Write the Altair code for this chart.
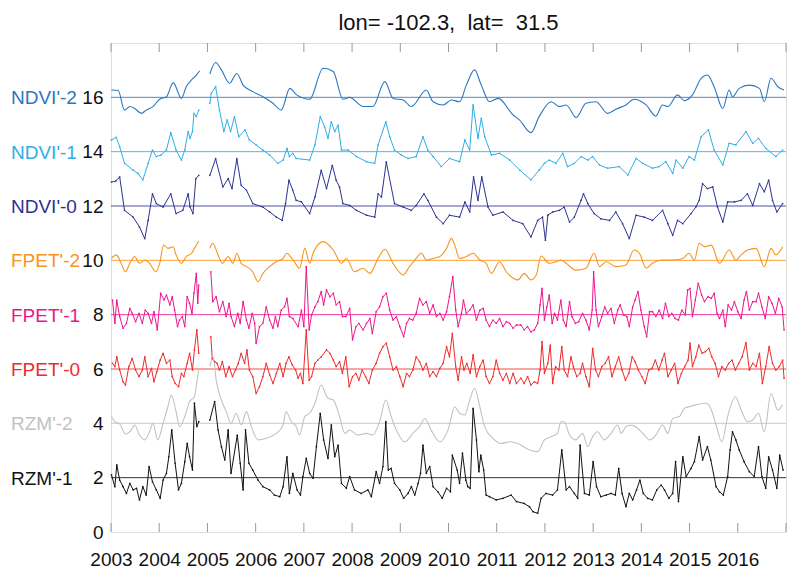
import altair as alt
import pandas as pd

TITLE = "lon= -102.3,\u00a0 lat=\u00a0 31.5"
NAMES = ["NDVI'-2", "NDVI'-1", "NDVI'-0", "FPET'-2", "FPET'-1", "FPET'-0", "RZM'-2", "RZM'-1"]
OFFSETS = [16, 14, 12, 10, 8, 6, 4, 2]
COLORS = ["#2a77c2", "#2eaee6", "#2e3192", "#f7941d", "#ec168c", "#ee2a2a", "#c2c2c2", "#111111"]
SMOOTH = ["NDVI'-2", "FPET'-2", "RZM'-2"]
YEAR_LABELS = list(range(2003, 2017))
YEAR_TICKS = list(range(2003, 2018))
Y_LABELS = [0, 2, 4, 6, 8, 10, 12, 14, 16]

# ---- NDVI'-2 ----
NDVI2_T = [2003.01, 2003.15, 2003.28, 2003.39, 2003.49, 2003.63, 2003.73, 2003.87, 2004.01, 2004.15, 2004.29, 2004.46, 2004.56, 2004.67, 2004.77, 2004.84,
           2005.05, 2005.17, 2005.29, 2005.46, 2005.61, 2005.74, 2005.94, 2006.15, 2006.36, 2006.53, 2006.71, 2006.85, 2007.12, 2007.40, 2007.61, 2007.81,
           2007.95, 2008.23, 2008.43, 2008.68, 2008.85, 2009.06, 2009.23, 2009.54, 2009.68, 2009.89, 2010.06, 2010.23, 2010.37, 2010.54, 2010.68, 2010.85,
           2011.03, 2011.34, 2011.47, 2011.71, 2011.88, 2012.13, 2012.30, 2012.44, 2012.65, 2012.85, 2013.06, 2013.30, 2013.47, 2013.68, 2013.85, 2014.10,
           2014.30, 2014.44, 2014.55, 2014.75, 2014.89, 2015.06, 2015.24, 2015.37, 2015.51, 2015.69, 2015.82, 2015.89, 2016.03, 2016.24, 2016.45, 2016.55,
           2016.69, 2016.83, 2016.96]
NDVI2_V = [0.27, 0.25, -0.47, -0.34, -0.41, -0.59, -0.47, -0.34, -0.07, 0.02, 0.54, -0.04, 0.39, 0.64, 0.82, 0.98,
           0.86, 1.28, 1.01, 0.52, 0.88, 0.45, 0.21, 0.02, -0.22, -0.47, 0.33, 0.09, -0.07, 1.07, 0.95, -0.07,
           0.0, -0.34, -0.34, 0.58, -0.04, -0.10, -0.34, 0.27, -0.16, -0.28, -0.10, -0.16, 0.45, 1.01, 0.45, -0.16,
           -0.04, -0.65, -0.83, -1.30, -0.71, -0.16, -0.34, -0.28, -0.74, -0.22, -0.16, -0.59, -0.44, -0.28, -0.07, -0.28,
           -0.69, -0.28, -0.34, 0.09, -0.12, 0.09, 0.70, 0.82, 0.39, -0.41, 0.27, 0.02, 0.33, 0.45, 0.33, -0.16,
           0.70, 0.39, 0.27]

# ---- NDVI'-1 ----
NDVI1_T = [2003.01, 2003.11, 2003.18, 2003.28, 2003.46, 2003.56, 2003.66, 2003.77, 2003.86, 2003.94, 2004.04, 2004.15, 2004.24, 2004.35, 2004.46, 2004.53,
           2004.60, 2004.64, 2004.69, 2004.72, 2004.77, 2004.82,
           2005.05, 2005.08, 2005.17, 2005.25, 2005.34, 2005.41, 2005.48, 2005.56, 2005.65, 2005.78, 2005.87, 2006.01, 2006.15, 2006.29, 2006.46, 2006.57,
           2006.65, 2006.70, 2006.77, 2006.84, 2007.12, 2007.23, 2007.34, 2007.43, 2007.50, 2007.57, 2007.64, 2007.71, 2007.78, 2007.92, 2008.09, 2008.30,
           2008.47, 2008.54, 2008.70, 2008.78, 2008.88, 2009.02, 2009.16, 2009.33, 2009.47, 2009.57, 2009.68, 2009.85, 2010.02, 2010.23, 2010.34, 2010.44,
           2010.51, 2010.61, 2010.68, 2010.75, 2010.89, 2011.06, 2011.27, 2011.48, 2011.71, 2011.88, 2011.99, 2012.09, 2012.23, 2012.37, 2012.47, 2012.61,
           2012.75, 2012.89, 2012.99, 2013.13, 2013.30, 2013.54, 2013.72, 2013.89, 2014.03, 2014.23, 2014.37, 2014.51, 2014.65, 2014.72, 2014.86, 2014.99,
           2015.10, 2015.24, 2015.39, 2015.51, 2015.69, 2015.82, 2015.96, 2016.17, 2016.31, 2016.43, 2016.58, 2016.79, 2016.93]
NDVI1_V = [0.43, 0.53, 0.18, -0.43, -0.68, -0.80, -1.04, -0.43, 0.06, -0.18, -0.12, 0.06, 0.70, 0.06, -0.31, 0.06,
           0.74, 0.49, 0.74, 1.41, 1.29, 1.53,
           1.78, 2.15, 2.39, 1.53, 0.74, 1.17, 0.74, 1.29, 0.55, 0.80, 0.43, 0.25, 0.06, -0.12, -0.43, -0.31,
           0.12, -0.18, -0.06, -0.25, -0.31, 0.25, 1.29, 0.92, 0.49, 1.10, 0.74, 0.98, 0.06, 0.06, -0.18, -0.37,
           -0.43, 0.25, 1.10, 0.55, 0.06, -0.12, -0.25, -0.18, 0.55, 0.06, -0.18, -0.55, -0.25, -0.37, 0.43, 0.06,
           1.72, 0.49, 1.23, 0.55, -0.12, -0.06, -0.31, -0.68, -1.04, -0.68, -0.43, -0.31, -0.43, -0.06, -0.55, -0.43,
           -0.18, -0.31, -0.18, -0.49, -0.61, -0.55, -0.86, -0.25, -0.43, -0.61, -0.55, -0.37, -0.80, -0.31, -0.61, -0.18,
           -0.31, 0.55, 0.80, 0.06, -0.49, 0.31, 0.25, 0.74, 0.31, 0.49, 0.12, -0.18, 0.06]

# ---- NDVI'-0 ----
NDVI0_T = [2003.01, 2003.10, 2003.18, 2003.28, 2003.46, 2003.59, 2003.70, 2003.77, 2003.86, 2003.94, 2004.08, 2004.24, 2004.35, 2004.49, 2004.60, 2004.64,
           2004.70, 2004.76, 2004.82,
           2005.05, 2005.17, 2005.32, 2005.43, 2005.51, 2005.61, 2005.70, 2005.81, 2005.94, 2006.15, 2006.29, 2006.43, 2006.55, 2006.62, 2006.69, 2006.77,
           2006.84, 2006.95, 2007.12, 2007.23, 2007.36, 2007.47, 2007.59, 2007.67, 2007.74, 2007.81, 2007.95, 2008.09, 2008.30, 2008.47, 2008.54, 2008.61,
           2008.71, 2008.88, 2009.06, 2009.23, 2009.33, 2009.49, 2009.57, 2009.75, 2009.89, 2010.02, 2010.23, 2010.34, 2010.44, 2010.52, 2010.61, 2010.69,
           2010.82, 2010.92, 2011.13, 2011.34, 2011.54, 2011.71, 2011.85, 2011.95, 2012.01, 2012.06, 2012.16, 2012.30, 2012.40, 2012.51, 2012.61, 2012.75,
           2012.80, 2012.89, 2013.02, 2013.16, 2013.34, 2013.47, 2013.61, 2013.75, 2013.89, 2014.06, 2014.23, 2014.44, 2014.55, 2014.65, 2014.75, 2014.86,
           2015.03, 2015.13, 2015.20, 2015.27, 2015.37, 2015.48, 2015.58, 2015.69, 2015.79, 2015.93, 2016.07, 2016.20, 2016.31, 2016.45, 2016.55, 2016.64,
           2016.72, 2016.81, 2016.93]
NDVI0_V = [0.88, 0.92, 1.07, -0.16, -0.41, -0.77, -1.20, -0.53, 0.45, 0.09, -0.04, 0.45, -0.28, -0.16, 0.45, -0.04,
           -0.28, 1.01, 1.13,
           1.13, 1.74, 0.70, 1.01, 0.64, 1.74, 0.76, 0.58, 0.09, -0.04, -0.22, -0.41, -0.53, 0.09, 0.95, 0.58,
           0.21, 0.15, -0.28, 0.33, 1.31, 0.64, 1.50, 0.95, 0.70, 0.09, 0.02, -0.16, -0.34, -0.41, 0.45, 0.33,
           1.62, 0.09, -0.04, -0.16, 0.02, 0.45, 0.21, -0.41, -0.65, -0.34, -0.41, 0.15, -0.22, 1.07, 0.21, 1.07,
           -0.04, -0.34, -0.22, -0.53, -0.65, -1.14, -0.53, -0.41, -1.26, -0.34, -0.22, -0.16, -0.04, -0.59, -0.41, 0.21,
           0.45, 0.09, -0.28, -0.47, -0.53, -0.22, -0.65, -1.20, -0.34, -0.41, -0.53, -0.16, -0.65, -1.08, -0.53, -0.65,
           -0.28, -0.04, 0.21, 0.82, 0.64, 0.70, -0.04, -0.59, 0.15, 0.15, 0.21, 0.45, 0.02, 0.82, 0.52, 0.95,
           0.21, -0.22, 0.09]

# ---- FPET'-2 ----
FPET2_T = [2003.01, 2003.11, 2003.21, 2003.30, 2003.39, 2003.49, 2003.59, 2003.70, 2003.80, 2003.93, 2004.01, 2004.09, 2004.18, 2004.29, 2004.35, 2004.46,
           2004.56, 2004.67, 2004.73, 2004.82,
           2005.05, 2005.11, 2005.22, 2005.31, 2005.43, 2005.53, 2005.61, 2005.70, 2005.81, 2005.94, 2006.05, 2006.15, 2006.29, 2006.43, 2006.57, 2006.64,
           2006.78, 2006.91, 2007.02, 2007.12, 2007.19, 2007.40, 2007.61, 2007.78, 2007.88, 2008.05, 2008.23, 2008.37, 2008.54, 2008.68, 2008.85, 2009.06,
           2009.19, 2009.30, 2009.44, 2009.54, 2009.68, 2009.82, 2009.96, 2010.06, 2010.13, 2010.23, 2010.37, 2010.51, 2010.65, 2010.78, 2010.89, 2011.06,
           2011.20, 2011.44, 2011.57, 2011.71, 2011.82, 2011.92, 2012.09, 2012.23, 2012.33, 2012.44, 2012.64, 2012.85, 2013.02, 2013.13, 2013.27, 2013.47,
           2013.68, 2013.85, 2013.96, 2014.10, 2014.23, 2014.44, 2014.65, 2014.86, 2014.99, 2015.10, 2015.20, 2015.31, 2015.45, 2015.62, 2015.82, 2015.96,
           2016.07, 2016.20, 2016.38, 2016.55, 2016.69, 2016.79, 2016.93]
FPET2_V = [0.07, 0.20, -0.11, -0.42, -0.11, 0.14, -0.11, 0.01, -0.11, -0.42, -0.11, 0.56, 0.44, 0.50, 0.20, -0.11,
           0.14, 0.26, 0.44, 0.71,
           0.44, 0.63, 0.20, -0.11, 0.14, -0.11, 0.26, -0.11, -0.23, -0.42, -0.79, -0.48, -0.23, -0.05, 0.07, 0.26,
           0.01, -0.29, 0.44, -0.11, 0.26, 0.69, 0.38, -0.11, 0.07, -0.42, -0.29, -0.48, 0.07, 0.41, -0.11, -0.54,
           -0.23, 0.01, 0.26, 0.01, 0.07, 0.14, 0.44, 0.81, 0.56, 0.07, 0.14, 0.26, 0.01, -0.11, -0.48, -0.05,
           -0.42, -0.72, -0.48, -0.72, -0.54, 0.16, -0.11, -0.05, 0.01, -0.11, -0.36, -0.29, 0.26, -0.23, -0.05, -0.23,
           -0.17, 0.38, 0.26, -0.29, -0.11, 0.01, 0.01, 0.07, 0.26, 0.01, 0.63, 0.50, 0.56, -0.11, 0.38, 0.01,
           0.20, 0.38, 0.44, -0.23, 0.44, 0.20, 0.50]

# ---- FPET'-1 ----
FPET1_T = [2003.03, 2003.08, 2003.12, 2003.18, 2003.25, 2003.32, 2003.39, 2003.44, 2003.51, 2003.58, 2003.65, 2003.71, 2003.77, 2003.84, 2003.89, 2003.96,
           2004.03, 2004.10, 2004.15, 2004.22, 2004.27, 2004.32, 2004.38, 2004.42, 2004.48, 2004.53, 2004.58, 2004.63, 2004.68, 2004.72, 2004.77, 2004.80,
           2004.82,
           2005.07, 2005.11, 2005.18, 2005.25, 2005.32, 2005.39, 2005.45, 2005.49, 2005.56, 2005.63, 2005.68, 2005.74, 2005.81, 2005.86, 2005.93, 2005.98,
           2006.01, 2006.08, 2006.15, 2006.22, 2006.29, 2006.36, 2006.41, 2006.46, 2006.53, 2006.60, 2006.65, 2006.70, 2006.77, 2006.88, 2006.95, 2007.00,
           2007.05, 2007.11, 2007.16, 2007.23, 2007.29, 2007.36, 2007.41, 2007.47, 2007.54, 2007.61, 2007.67, 2007.74, 2007.80, 2007.87, 2007.95, 2008.01,
           2008.08, 2008.14, 2008.23, 2008.30, 2008.37, 2008.42, 2008.50, 2008.57, 2008.64, 2008.71, 2008.78, 2008.85, 2008.92, 2008.99, 2009.07, 2009.13,
           2009.19, 2009.26, 2009.33, 2009.40, 2009.47, 2009.54, 2009.61, 2009.68, 2009.75, 2009.82, 2009.89, 2009.96, 2010.02, 2010.09, 2010.15, 2010.20,
           2010.27, 2010.31, 2010.37, 2010.44, 2010.51, 2010.58, 2010.65, 2010.72, 2010.78, 2010.85, 2010.92, 2010.99, 2011.06, 2011.13, 2011.20, 2011.27,
           2011.34, 2011.41, 2011.50, 2011.57, 2011.64, 2011.71, 2011.78, 2011.85, 2011.90, 2011.94, 2011.99, 2012.04, 2012.09, 2012.15, 2012.20, 2012.26,
           2012.33, 2012.38, 2012.44, 2012.51, 2012.56, 2012.63, 2012.70, 2012.78, 2012.85, 2012.92, 2012.98, 2013.01, 2013.06, 2013.11, 2013.18, 2013.24,
           2013.30, 2013.37, 2013.44, 2013.51, 2013.56, 2013.63, 2013.70, 2013.75, 2013.82, 2013.87, 2013.93, 2013.99, 2014.06, 2014.11, 2014.17, 2014.23,
           2014.30, 2014.37, 2014.44, 2014.50, 2014.57, 2014.63, 2014.70, 2014.77, 2014.84, 2014.91, 2014.96, 2015.01, 2015.06, 2015.12, 2015.18, 2015.25,
           2015.31, 2015.38, 2015.45, 2015.51, 2015.57, 2015.62, 2015.69, 2015.74, 2015.80, 2015.87, 2015.93, 2016.00, 2016.07, 2016.13, 2016.18, 2016.24,
           2016.31, 2016.38, 2016.43, 2016.50, 2016.57, 2016.64, 2016.71, 2016.78, 2016.85, 2016.92, 2016.96]
FPET1_V = [0.54, -0.32, 0.54, -0.07, -0.50, -0.32, 0.23, 0.05, -0.26, 0.05, -0.32, 0.17, 0.05, -0.32, 0.11, -0.56,
           0.79, 0.54, 0.72, 0.36, 0.66, 0.17, -0.44, -0.20, -0.07, -0.44, 0.66, 0.42, 0.05, 0.79, 1.52, 0.42,
           1.09,
           1.58, 0.48, 0.66, 0.11, 0.48, -0.07, 0.42, -0.07, -0.44, 0.05, -0.32, 0.48, -0.20, -0.50, 0.05, -0.32,
           -1.06, -0.44, -0.32, 0.29, -0.20, -0.50, -0.07, -0.44, 0.17, 0.29, 0.60, -0.07, -0.14, -0.44, 0.17, -0.44,
           1.77, -0.56, -0.01, 0.29, 0.48, 0.85, 0.36, 0.91, 0.66, 0.79, 0.36, 0.48, -0.07, -0.07, 0.23, -0.93,
           -0.44, -0.32, -0.56, -0.32, -0.14, -0.69, 0.11, 0.29, 0.66, 0.79, 0.17, -0.20, -0.07, -0.44, -0.81, -0.32,
           -0.14, -0.20, 0.05, 0.60, 0.36, 0.48, 0.05, 0.36, -0.07, 0.05, -0.20, 0.11, 0.66, 1.40, 0.17, -0.44,
           0.05, 0.54, 0.05, 0.17, 0.36, -0.20, 0.17, 0.23, -0.20, -0.44, -0.20, -0.32, -0.14, -0.44, -0.26, -0.32,
           -0.50, -0.38, -0.38, -0.56, -0.44, -0.63, -0.56, -0.32, 0.36, 0.97, -0.20, 0.29, 0.72, -0.32, 0.05, -0.20,
           0.54, -0.20, -0.44, 0.48, -0.07, -0.32, -0.26, 0.05, -0.20, -0.56, 0.17, 1.58, 0.17, -0.44, -0.07, 0.29,
           0.05, 0.23, -0.32, 0.17, 0.36, -0.01, -0.07, -0.44, 0.29, 0.54, 0.85, 0.17, -0.44, -0.81, 0.11, 0.11,
           -0.07, 0.17, -0.14, 0.42, -0.07, 0.05, -0.14, -0.20, 0.17, -0.01, 0.91, 0.97, -0.07, 0.54, 1.15, 0.72,
           0.48, 0.66, 0.60, 0.79, 0.05, -0.14, 0.17, -0.44, 0.36, 0.17, 0.48, 0.11, -0.14, 0.54, 0.85, 0.17,
           0.48, 0.48, 0.79, 0.29, -0.14, 0.66, 0.42, 0.05, 0.60, 0.29, -0.56]

# ---- FPET'-0 ----
FPET0_T = [2003.03, 2003.08, 2003.12, 2003.18, 2003.25, 2003.30, 2003.37, 2003.44, 2003.51, 2003.58, 2003.65, 2003.70, 2003.77, 2003.84, 2003.89, 2003.95,
           2004.02, 2004.08, 2004.15, 2004.22, 2004.27, 2004.33, 2004.40, 2004.46, 2004.51, 2004.58, 2004.63, 2004.69, 2004.73, 2004.78, 2004.82,
           2005.07, 2005.10, 2005.15, 2005.20, 2005.25, 2005.31, 2005.38, 2005.45, 2005.52, 2005.58, 2005.64, 2005.70, 2005.77, 2005.82, 2005.87, 2005.94,
           2006.01, 2006.08, 2006.15, 2006.22, 2006.29, 2006.36, 2006.43, 2006.50, 2006.57, 2006.63, 2006.69, 2006.76, 2006.83, 2006.88, 2006.93, 2006.98,
           2007.05, 2007.11, 2007.16, 2007.23, 2007.29, 2007.36, 2007.47, 2007.54, 2007.61, 2007.67, 2007.74, 2007.80, 2007.87, 2007.94, 2008.01, 2008.08,
           2008.14, 2008.21, 2008.28, 2008.35, 2008.42, 2008.50, 2008.57, 2008.64, 2008.71, 2008.78, 2008.85, 2008.92, 2008.99, 2009.06, 2009.13, 2009.19,
           2009.26, 2009.33, 2009.40, 2009.47, 2009.54, 2009.61, 2009.68, 2009.75, 2009.82, 2009.89, 2009.96, 2010.02, 2010.08, 2010.15, 2010.20, 2010.27,
           2010.32, 2010.38, 2010.45, 2010.51, 2010.58, 2010.65, 2010.72, 2010.78, 2010.85, 2010.92, 2010.99, 2011.06, 2011.13, 2011.20, 2011.27, 2011.34,
           2011.41, 2011.50, 2011.57, 2011.64, 2011.71, 2011.78, 2011.85, 2011.90, 2011.94, 2011.99, 2012.06, 2012.11, 2012.16, 2012.22, 2012.29, 2012.35,
           2012.40, 2012.47, 2012.54, 2012.59, 2012.66, 2012.73, 2012.78, 2012.85, 2012.92, 2012.99, 2013.05, 2013.11, 2013.18, 2013.25, 2013.32, 2013.39,
           2013.46, 2013.53, 2013.60, 2013.67, 2013.74, 2013.81, 2013.87, 2013.94, 2014.01, 2014.08, 2014.15, 2014.22, 2014.29, 2014.36, 2014.43, 2014.48,
           2014.55, 2014.62, 2014.69, 2014.76, 2014.83, 2014.90, 2014.97, 2015.01, 2015.06, 2015.13, 2015.19, 2015.26, 2015.33, 2015.40, 2015.46, 2015.53,
           2015.60, 2015.67, 2015.74, 2015.81, 2015.88, 2015.95, 2016.02, 2016.09, 2016.17, 2016.24, 2016.31, 2016.38, 2016.45, 2016.51, 2016.58, 2016.65,
           2016.72, 2016.79, 2016.86, 2016.93, 2016.96]
FPET0_V = [0.21, 0.09, 0.45, -0.04, -0.47, -0.59, 0.09, 0.39, -0.04, -0.28, -0.04, 0.45, -0.28, 0.02, -0.47, -0.10,
           0.33, 0.58, 0.21, 0.33, -0.28, -0.53, -0.65, -0.16, -0.28, 0.21, 0.58, -0.04, 0.70, 1.44, 0.58,
           1.19, 0.39, 0.27, 0.21, -0.04, 0.27, -0.28, 0.09, -0.28, -0.04, 0.21, 0.58, 0.21, 0.70, -0.04, -0.28,
           -0.90, -0.65, -0.28, 0.21, -0.22, -0.53, -0.16, 0.21, -0.28, 0.21, 0.45, 0.15, -0.04, -0.34, -0.16, -0.53,
           1.44, -0.41, -0.28, 0.21, 0.33, 0.45, 0.70, 0.58, 0.33, 0.09, 0.27, -0.16, 0.45, -0.65, -0.28, -0.16,
           -0.41, -0.04, -0.28, -0.53, -0.04, 0.21, 0.58, 0.82, 0.95, 0.45, -0.04, 0.09, -0.28, -0.65, -0.16, -0.28,
           -0.04, 0.45, 0.27, -0.04, 0.21, -0.28, -0.10, -0.28, 0.02, 0.21, 0.82, 0.45, 1.31, 0.09, -0.41, 0.45,
           -0.04, 0.21, -0.16, 0.52, -0.28, 0.09, 0.33, -0.28, -0.53, -0.28, 0.33, -0.16, -0.41, -0.16, -0.53, -0.16,
           -0.53, -0.34, -0.53, -0.28, -0.59, -0.47, -0.53, -0.04, 1.01, -0.16, 0.21, 0.88, -0.53, 0.09, -0.04, 0.82,
           -0.04, -0.28, 0.45, 0.09, -0.28, -0.16, 0.21, -0.28, -0.65, 0.76, -0.04, -0.28, 0.09, 0.21, 0.45, -0.28,
           0.09, 0.45, -0.04, -0.41, -0.16, 0.45, 0.27, -0.04, -0.28, -0.53, -0.04, 0.02, 0.33, -0.04, 0.33, 0.58,
           -0.28, -0.04, 0.21, -0.53, -0.16, 0.09, 0.33, 0.95, 0.09, 0.45, 0.88, 0.58, 0.64, 0.76, 0.45, 0.21,
           -0.28, 0.09, -0.04, 0.21, 0.33, -0.04, 0.21, 0.45, 0.97, -0.04, 0.21, 0.09, 0.58, -0.53, 0.09, 0.82,
           0.21, -0.04, 0.09, 0.33, -0.34]

# ---- RZM'-2 ----
RZM2_T = [2003.01, 2003.08, 2003.17, 2003.30, 2003.42, 2003.49, 2003.59, 2003.70, 2003.80, 2003.87, 2003.97, 2004.08, 2004.18, 2004.25, 2004.35, 2004.42,
          2004.53, 2004.63, 2004.73, 2004.78, 2004.82,
          2005.05, 2005.12, 2005.18, 2005.29, 2005.39, 2005.49, 2005.60, 2005.70, 2005.81, 2005.91, 2006.05, 2006.22, 2006.43, 2006.57, 2006.63, 2006.74, 2006.84,
          2006.91, 2007.02, 2007.12, 2007.23, 2007.36, 2007.50, 2007.61, 2007.74, 2007.85, 2007.95, 2008.12, 2008.30, 2008.43, 2008.57, 2008.70, 2008.81,
          2008.92, 2009.09, 2009.26, 2009.40, 2009.51, 2009.64, 2009.82, 2009.99, 2010.13, 2010.23, 2010.34, 2010.44, 2010.54, 2010.65, 2010.75, 2010.92,
          2011.10, 2011.27, 2011.44, 2011.68, 2011.85, 2011.99, 2012.13, 2012.26, 2012.33, 2012.40, 2012.51, 2012.64, 2012.78, 2012.89, 2012.99, 2013.09,
          2013.23, 2013.37, 2013.51, 2013.58, 2013.68, 2013.79, 2013.92, 2014.03, 2014.17, 2014.30, 2014.44, 2014.55, 2014.65, 2014.79, 2014.89, 2014.99,
          2015.13, 2015.34, 2015.44, 2015.55, 2015.67, 2015.79, 2015.95, 2016.07, 2016.20, 2016.31, 2016.43, 2016.55, 2016.69, 2016.83, 2016.93]
RZM2_V = [0.25, 0.06, 0.0, -0.39, -0.25, -0.06, -0.43, -0.61, -0.31, 0.0, -0.61, 0.0, 0.61, 1.04, 0.43, -0.12,
          0.25, 0.80, 0.98, 1.50, 2.00,
          2.10, 2.46, 1.60, 0.86, 0.43, 0.0, 0.37, -0.06, 0.43, -0.12, -0.61, -0.55, -0.37, -0.06, 0.43, 0.06, -0.12,
          -0.43, 0.25, 0.37, 0.74, 1.41, 0.92, 0.86, 0.25, -0.37, -0.25, -0.43, -0.37, -0.43, 0.06, 0.86, 0.25,
          -0.25, -0.68, -0.37, -0.12, 0.18, -0.25, -0.68, -0.25, 0.61, 0.37, 0.31, 0.86, 1.29, 0.61, -0.12, -0.55,
          -0.74, -0.68, -0.74, -0.98, -1.04, -0.61, -0.49, -0.37, 0.06, 0.06, -0.43, -0.61, -0.37, -0.86, -0.49, -0.31,
          -0.61, -0.37, -0.06, -0.37, -0.12, -0.06, -0.18, -0.37, -0.61, -0.43, -0.06, -0.37, 0.18, 0.25, 0.55, 0.61,
          0.68, 0.74, 0.55, -0.06, -0.68, 0.25, 0.98, 0.49, 0.06, 0.12, 0.37, -0.31, 1.10, 0.49, 0.68]

# ---- RZM'-1 ----
RZM1_T = [2003.01, 2003.08, 2003.12, 2003.18, 2003.25, 2003.32, 2003.39, 2003.46, 2003.53, 2003.59, 2003.66, 2003.73, 2003.79, 2003.86, 2003.94, 2004.02,
          2004.08, 2004.15, 2004.20, 2004.26, 2004.33, 2004.40, 2004.46, 2004.53, 2004.58, 2004.63, 2004.69, 2004.73, 2004.78, 2004.82,
          2005.05, 2005.15, 2005.22, 2005.29, 2005.36, 2005.43, 2005.49, 2005.62, 2005.68, 2005.74, 2005.79, 2005.86, 2005.94, 2006.05, 2006.15, 2006.29,
          2006.39, 2006.50, 2006.57, 2006.65, 2006.70, 2006.77, 2006.86, 2006.93, 2006.98, 2007.05, 2007.12, 2007.19, 2007.26, 2007.34, 2007.41, 2007.50,
          2007.57, 2007.64, 2007.71, 2007.78, 2007.88, 2007.95, 2008.05, 2008.19, 2008.33, 2008.40, 2008.50, 2008.57, 2008.64, 2008.70, 2008.75, 2008.81,
          2008.88, 2008.99, 2009.07, 2009.16, 2009.23, 2009.30, 2009.37, 2009.42, 2009.47, 2009.54, 2009.61, 2009.68, 2009.78, 2009.87, 2009.96, 2010.04,
          2010.08, 2010.18, 2010.23, 2010.29, 2010.36, 2010.40, 2010.45, 2010.51, 2010.58, 2010.63, 2010.67, 2010.73, 2010.78, 2010.85, 2010.99, 2011.13,
          2011.30, 2011.41, 2011.57, 2011.68, 2011.75, 2011.85, 2011.92, 2012.02, 2012.16, 2012.26, 2012.35, 2012.44, 2012.51, 2012.61, 2012.68, 2012.73,
          2012.82, 2012.92, 2013.00, 2013.07, 2013.16, 2013.27, 2013.37, 2013.46, 2013.53, 2013.60, 2013.68, 2013.75, 2013.82, 2013.90, 2013.97, 2014.04,
          2014.13, 2014.23, 2014.32, 2014.41, 2014.48, 2014.57, 2014.65, 2014.71, 2014.77, 2014.86, 2014.93, 2015.03, 2015.10, 2015.20, 2015.27, 2015.37,
          2015.44, 2015.55, 2015.62, 2015.70, 2015.79, 2015.84, 2015.89, 2015.96, 2016.03, 2016.13, 2016.24, 2016.34, 2016.43, 2016.50, 2016.58, 2016.64,
          2016.72, 2016.81, 2016.87, 2016.94]
RZM1_V = [0.10, -0.33, 0.47, -0.09, -0.33, -0.58, -0.21, -0.45, -0.39, -0.82, -0.33, -0.64, 0.41, -0.15, -0.45, -0.76,
          -0.09, 0.16, 0.77, 1.76, 0.53, -0.45, -0.21, 0.59, 1.26, 0.77, 0.28, 2.74, 1.88, 2.06,
          2.12, 2.80, 1.76, 1.14, 0.65, 1.76, 0.16, 1.57, 0.53, -0.45, 1.76, 0.53, 0.28, -0.09, -0.33, -0.45,
          -0.64, -0.70, -0.33, 0.77, -0.58, 0.16, -0.45, -0.64, 0.04, 0.71, 0.16, -0.02, 1.14, 2.37, 1.39, 0.71,
          1.94, 0.77, 1.20, -0.21, -0.39, 0.04, -0.45, -0.58, -0.45, -0.70, 0.22, -0.21, 0.41, 2.06, 0.28, 0.34,
          -0.21, -0.45, -0.76, -0.58, -0.33, -0.64, -0.21, 0.16, 1.20, 0.16, 0.41, -0.33, -0.52, -0.76, -0.39, -0.52,
          0.83, 0.28, -0.21, 0.90, -0.09, -0.33, -0.39, 2.55, 1.39, 0.22, 0.83, 0.28, -0.64, -0.70, -0.82, -0.76,
          -0.64, -0.88, -0.95, -1.07, -1.25, -1.31, -0.76, -0.58, -0.64, -0.45, 1.02, -0.45, -0.33, -0.58, -0.76, 1.20,
          -0.58, -0.64, 0.59, -0.33, -0.70, -0.64, -0.58, -0.64, 0.34, -0.58, -1.07, -0.58, -0.82, -0.45, -0.09, -0.58,
          -0.76, -0.82, -0.45, -0.27, -0.45, -0.76, -0.58, 0.59, -0.88, 0.77, 0.04, 0.34, 0.59, 1.51, 0.65, 1.14,
          0.65, -0.33, -0.52, -0.64, 0.04, 1.02, 1.69, 1.39, 1.02, 0.59, 0.22, 0.04, 1.14, 0.04, -0.39, 0.77,
          0.28, -0.39, 0.83, 0.28]

SERIES_T = [NDVI2_T, NDVI1_T, NDVI0_T, FPET2_T, FPET1_T, FPET0_T, RZM2_T, RZM1_T]
SERIES_V = [NDVI2_V, NDVI1_V, NDVI0_V, FPET2_V, FPET1_V, FPET0_V, RZM2_V, RZM1_V]

rows = []
for name, off, ts, vs in zip(NAMES, OFFSETS, SERIES_T, SERIES_V):
    for t, v in zip(ts, vs):
        rows.append({"name": name, "t": t, "y": off + v, "seg": 0 if t < 2004.95 else 1,
                     "smooth": name in SMOOTH})
df = pd.DataFrame(rows)
df_smooth = df[df["smooth"]].drop(columns=["smooth"])
df_rough = df[~df["smooth"]].drop(columns=["smooth"])
base_df = pd.DataFrame({"name": NAMES, "off": OFFSETS})
tick_df = pd.DataFrame({"yr": YEAR_TICKS})
title_df = pd.DataFrame({"label": [TITLE]})

W, H = 675, 489
FONT = "Liberation Sans"
FS = 19

xscale = alt.Scale(domain=[2003, 2017], nice=False, zero=False)
yscale = alt.Scale(domain=[0, 18], nice=False, zero=False)
cscale = alt.Scale(domain=NAMES, range=COLORS)

xaxis = alt.Axis(values=YEAR_LABELS, format="d", title=None, ticks=False, domain=False, grid=False,
                 labelFontSize=FS, labelColor="#111", labelPadding=18, labelFlush=False,
                 labelOverlap=False, labelFont=FONT)
yaxis = alt.Axis(values=Y_LABELS, title=None, ticks=False, domain=False, grid=False,
                 labelFontSize=FS, labelColor="#111", labelPadding=8, labelFont=FONT)

baselines = alt.Chart(base_df).mark_rule(strokeWidth=1, opacity=0.85).encode(
    y=alt.Y("off:Q", scale=yscale, axis=yaxis),
    color=alt.Color("name:N", scale=cscale, legend=None),
)

lines_rough = alt.Chart(df_rough).mark_line(strokeWidth=1, interpolate="linear").encode(
    x=alt.X("t:Q", scale=xscale, axis=xaxis),
    y=alt.Y("y:Q", scale=yscale, axis=yaxis),
    color=alt.Color("name:N", scale=cscale, legend=None),
    detail="seg:N",
)

lines_smooth = alt.Chart(df_smooth).mark_line(strokeWidth=1.1, interpolate="monotone").encode(
    x=alt.X("t:Q", scale=xscale),
    y=alt.Y("y:Q", scale=yscale),
    color=alt.Color("name:N", scale=cscale, legend=None),
    detail="seg:N",
)

dots = alt.Chart(df_rough).mark_circle(size=3, opacity=0.9).encode(
    x=alt.X("t:Q", scale=xscale),
    y=alt.Y("y:Q", scale=yscale),
    color=alt.Color("name:N", scale=cscale, legend=None),
)

labels = alt.Chart(base_df).mark_text(align="left", baseline="middle", fontSize=FS, font=FONT, dy=1).encode(
    x=alt.value(-100),
    y=alt.Y("off:Q", scale=yscale),
    text="name:N",
    color=alt.Color("name:N", scale=cscale, legend=None),
)

title_mark = alt.Chart(title_df).mark_text(align="center", baseline="alphabetic", fontSize=22, font=FONT,
                                           color="#111").encode(
    x=alt.value(W / 2),
    y=alt.value(-13),
    text="label:N",
)

ticks_top = alt.Chart(tick_df).mark_rule(color="#999", strokeWidth=1).encode(
    x=alt.X("yr:Q", scale=xscale), y=alt.value(0), y2=alt.value(9)
)
ticks_bot = alt.Chart(tick_df).mark_rule(color="#999", strokeWidth=1).encode(
    x=alt.X("yr:Q", scale=xscale), y=alt.value(H - 9), y2=alt.value(H)
)

chart = alt.layer(baselines, lines_rough, lines_smooth, dots, labels, title_mark, ticks_top, ticks_bot).properties(
    width=W, height=H,
    autosize=alt.AutoSizeParams(type="none"),
    padding={"left": 103, "top": 35, "right": 6, "bottom": 36},
).configure_view(stroke="#999", strokeWidth=1).configure(font=FONT)

chart.save("out.html", embed_options={"renderer": "svg", "actions": False})
